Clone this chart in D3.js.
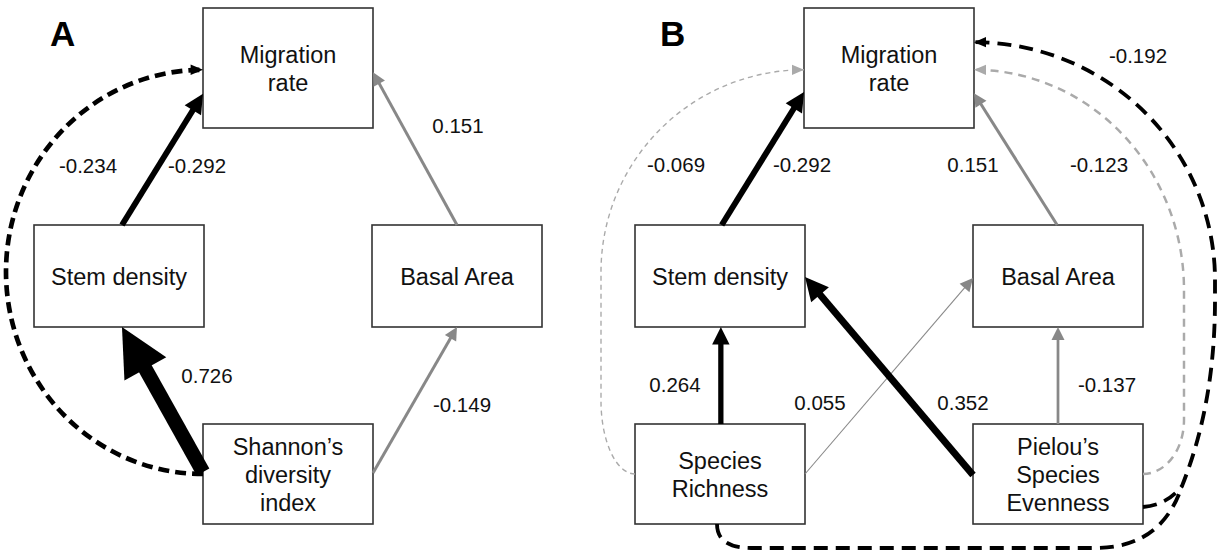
<!DOCTYPE html>
<html>
<head>
<meta charset="utf-8">
<script src="https://cdn.jsdelivr.net/npm/d3@7"></script>
<style>
  body { margin: 0; background: #fff; }
  svg { display: block; font-family: "Liberation Sans", Arial, Helvetica, sans-serif; }
</style>
</head>
<body>
<div id="chart"></div>
<script>
// ---- data ----
const nodeKeys   = ["mig", "stem", "basal", "shannon", "richness", "evenness"];
const nodeLabels = [["Migration", "rate"], ["Stem density"], ["Basal Area"],
                    ["Shannon’s", "diversity", "index"], ["Species", "Richness"],
                    ["Pielou’s", "Species", "Evenness"]];
const panelNames = ["A", "B"];
const panelNodes = [["mig", "stem", "basal", "shannon"],
                    ["mig", "stem", "basal", "richness", "evenness"]];

// path coefficients, panel A
const fromA   = ["stem", "basal", "shannon", "shannon", "shannon"];
const toA     = ["mig",  "mig",   "stem",    "basal",   "mig"];
const coefA   = [-0.292, 0.151,   0.726,     -0.149,    -0.234];
const signifA = [true,   false,   true,      false,     true];

// path coefficients, panel B
const fromB   = ["stem", "basal", "richness", "richness", "evenness", "evenness", "richness", "evenness", "evenness"];
const toB     = ["mig",  "mig",   "stem",     "basal",    "stem",     "basal",    "mig",      "mig",      "mig"];
const coefB   = [-0.292, 0.151,   0.264,      0.055,      0.352,      -0.137,     -0.069,     -0.123,     -0.192];
const signifB = [true,   false,   true,       false,      true,       false,      false,      false,      true];

// ---- layout ----
const W = 1225, H = 557;
const nodeCol = { mig: 1, stem: 0, basal: 2, shannon: 1, richness: 0, evenness: 2 };
const nodeRow = { mig: 0, stem: 1, basal: 1, shannon: 2, richness: 2, evenness: 2 };

const colX  = d3.scaleLinear().domain([0, 2]).range([119, 457]);
const rowY  = d3.scaleOrdinal().domain([0, 1, 2]).range([68, 276, 474]);
const rowH  = d3.scaleOrdinal().domain([0, 1, 2]).range([120, 102, 100]);
const panelX = d3.scaleOrdinal().domain(panelNames).range([0, 601]);
const boxW = 170;
const strokeW = d3.scaleLinear().domain([0, 1]).range([0, 20]);

// edge routing + label spots (panel-local)
const routeA = [
  { kind: "line", s: ["top", 0.035],  t: ["left", 0.43],  label: [197, 173] },
  { kind: "line", s: ["top", 0],      t: ["right", 0.07], label: [458, 133] },
  { kind: "line", s: ["left", -0.04], t: ["bottom", 0.035], label: [207, 383] },
  { kind: "line", s: ["right", -0.02], t: ["bottom", 0],  label: [462, 412] },
  { kind: "arcLeft", s: ["left", 0], t: ["left", 0.03], rx: 197, label: [88, 173] }
];
const routeB = [
  { kind: "line", s: ["top", 0.02],   t: ["left", 0.4],   label: [201, 172] },
  { kind: "line", s: ["top", -0.01],  t: ["right", 0.42], label: [372, 172] },
  { kind: "line", s: ["top", 0.01],   t: ["bottom", 0.01], label: [74, 392] },
  { kind: "line", s: ["right", 0],    t: ["left", 0.04],  label: [219, 410] },
  { kind: "line", s: ["left", 0.02],  t: ["right", 0.02], label: [362, 410] },
  { kind: "line", s: ["top", 0],      t: ["bottom", 0],   label: [506, 392] },
  { kind: "railLeft",  s: ["left", 0],  t: ["left", 0.03],  rail: 0,   corner: 73, cy: 272, label: [75, 172] },
  { kind: "railRight", s: ["right", 0], t: ["right", 0.03], rail: 583, corner: 54, cy: 290, label: [498, 172] },
  { kind: "loop", s: ["right", 0.66], t: ["right", -0.43], rail: 614, cy: 280,
    branch: ["richness", "bottom", -0.035], label: [537, 63] }
];

const svg = d3.select("#chart").append("svg").attr("width", W).attr("height", H);

function box(key) {
  const r = nodeRow[key];
  return { x: colX(nodeCol[key]), y: rowY(r), w: boxW, h: rowH(r) };
}
function anchor(key, side, t) {
  const b = box(key);
  if (side === "top")    return [b.x + t * b.w / 2, b.y - b.h / 2];
  if (side === "bottom") return [b.x + t * b.w / 2, b.y + b.h / 2];
  if (side === "left")   return [b.x - b.w / 2, b.y + t * b.h / 2];
  return [b.x + b.w / 2, b.y + t * b.h / 2];
}
function head(tip, dir, L, Wd) {
  const bx = tip[0] - dir[0] * L, by = tip[1] - dir[1] * L;
  const nx = -dir[1] * Wd / 2, ny = dir[0] * Wd / 2;
  return `M${tip[0]},${tip[1]}L${bx + nx},${by + ny}L${bx - nx},${by - ny}Z`;
}

function drawPanel(pi, from, to, coef, signif, route) {
  const g = svg.append("g").attr("transform", `translate(${panelX(panelNames[pi])},0)`);

  // boxes
  const nodes = g.selectAll("g.node").data(panelNodes[pi]).join("g").attr("class", "node");
  nodes.append("rect")
    .attr("x", d => box(d).x - boxW / 2)
    .attr("y", d => box(d).y - box(d).h / 2)
    .attr("width", boxW)
    .attr("height", d => box(d).h)
    .attr("fill", "#fff").attr("stroke", "#333").attr("stroke-width", 1.6);
  nodes.each(function (d) {
    const lines = nodeLabels[nodeKeys.indexOf(d)];
    const b = box(d);
    d3.select(this).selectAll("text").data(lines).join("text")
      .attr("x", b.x)
      .attr("y", (l, i) => b.y + 8.5 + (i - (lines.length - 1) / 2) * 28)
      .attr("text-anchor", "middle")
      .attr("font-size", 23.5)
      .attr("fill", "#111")
      .text(l => l);
  });

  // edges: grey first, black on top
  const order = d3.range(coef.length).sort((a, b) => (signif[a] - signif[b]) || (Math.abs(coef[a]) - Math.abs(coef[b])));
  order.forEach(i => {
    const r = route[i];
    const sw = Math.max(1.1, strokeW(Math.abs(coef[i])));
    const dashed = r.kind !== "line";
    const col = signif[i] ? "#000" : (dashed ? "#aaa" : "#888");
    const L = Math.max(13, 3.3 * sw), Wd = L;
    const s = anchor(from[i], r.s[0], r.s[1]);
    const e = anchor(to[i], r.t[0], r.t[1]);
    let d, dir;

    if (r.kind === "line") {
      const dx = e[0] - s[0], dy = e[1] - s[1], len = Math.hypot(dx, dy);
      dir = [dx / len, dy / len];
      const end = [e[0] - dir[0] * L * 0.85, e[1] - dir[1] * L * 0.85];
      d = d3.line()([s, end]);
    } else if (r.kind === "arcLeft") {
      const ry = (s[1] - e[1]) / 2;
      dir = [1, 0];
      d = `M${s[0]},${s[1]}A${r.rx},${ry} 0 0 1 ${e[0]},${e[1]}`;
    } else if (r.kind === "railLeft") {
      dir = [1, 0];
      d = `M${s[0]},${s[1]}A${s[0] - r.rail},${r.corner} 0 0 1 ${r.rail},${s[1] - r.corner}` +
          `L${r.rail},${r.cy}A${e[0] - r.rail},${r.cy - e[1]} 0 0 1 ${e[0]},${e[1]}`;
    } else if (r.kind === "railRight") {
      dir = [-1, 0];
      d = `M${s[0]},${s[1]}A${r.rail - s[0]},${r.corner} 0 0 0 ${r.rail},${s[1] - r.corner}` +
          `L${r.rail},${r.cy}A${r.rail - e[0]},${r.cy - e[1]} 0 0 0 ${e[0]},${e[1]}`;
    } else {
      // loop: source stub joins a rail that runs round to the target
      dir = [-1, 0];
      const j = [r.rail - 33, s[1] - 21];
      d = `M${s[0]},${s[1]}Q${s[0] + 24},${s[1] - 2} ${j[0]},${j[1]}` +
          `C${j[0] + 18},${j[1] - 45} ${r.rail},${j[1] - 105} ${r.rail},${r.cy + 20}` +
          `L${r.rail},${r.cy}A${r.rail - e[0]},${r.cy - e[1]} 0 0 0 ${e[0]},${e[1]}`;
      const b0 = anchor(r.branch[0], r.branch[1], r.branch[2]);
      const yb = b0[1] + 24;
      const dB = `M${b0[0]},${b0[1]}Q${b0[0]},${yb} ${b0[0] + 34},${yb}` +
                 `L${j[0] - 87},${yb}C${j[0] - 37},${yb} ${j[0] - 12},${yb - 26} ${j[0]},${j[1]}`;
      g.append("path").attr("d", dB).attr("fill", "none")
        .attr("stroke", col).attr("stroke-width", sw).attr("stroke-dasharray", "14,8");
    }

    g.append("path").attr("d", d).attr("fill", "none")
      .attr("stroke", col).attr("stroke-width", sw)
      .attr("stroke-dasharray", dashed ? (signif[i] ? (pi === 0 ? "11,6" : "14,8") : (sw < 2 ? "5,4" : "8,6")) : null);
    const hl = dashed ? Math.max(12, L * 0.8) : L;
    g.append("path").attr("d", head(e, dir, hl, hl * (dashed ? 0.85 : 1))).attr("fill", col);

    g.append("text")
      .attr("x", r.label[0]).attr("y", r.label[1])
      .attr("text-anchor", "middle")
      .attr("font-size", 20.5)
      .attr("fill", "#111")
      .text(coef[i].toFixed(3));
  });

  g.append("text")
    .attr("x", pi === 0 ? 50 : 59).attr("y", 46)
    .attr("font-size", 35).attr("font-weight", "bold")
    .text(panelNames[pi]);
}

drawPanel(0, fromA, toA, coefA, signifA, routeA);
drawPanel(1, fromB, toB, coefB, signifB, routeB);
</script>
</body>
</html>
